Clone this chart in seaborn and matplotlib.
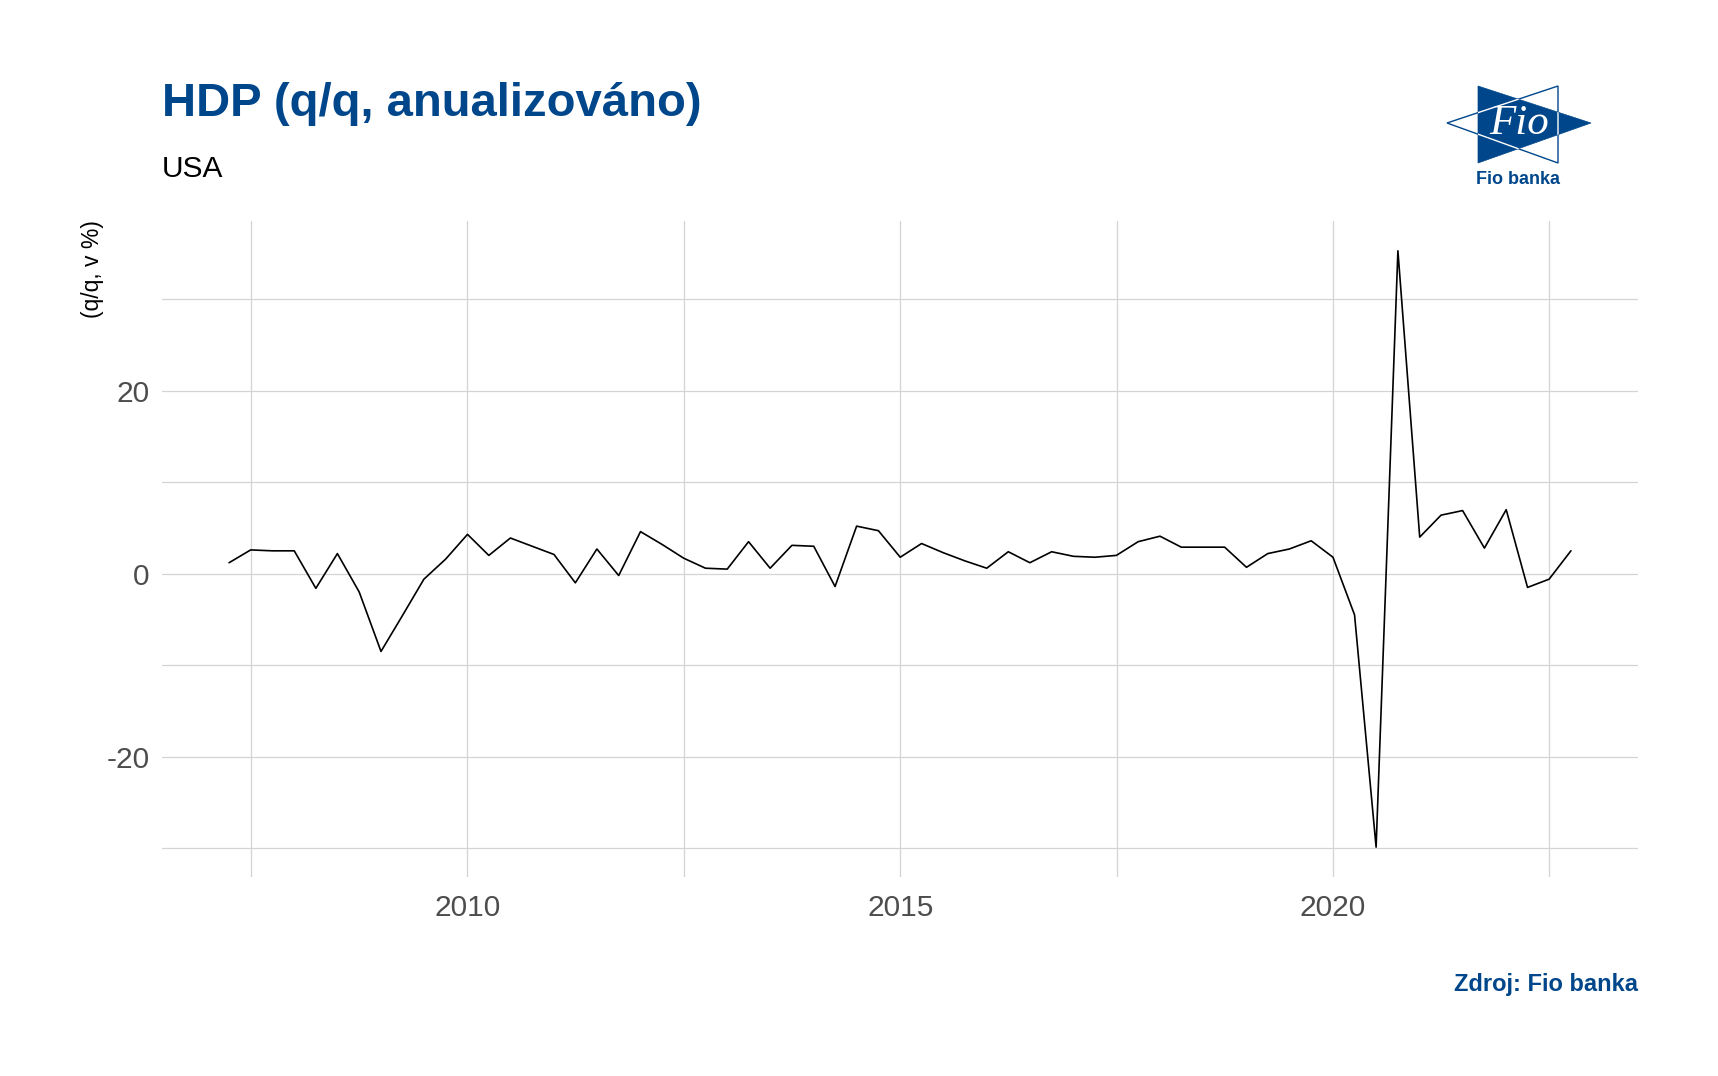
import matplotlib
matplotlib.use("Agg")
import matplotlib.pyplot as plt
import matplotlib.dates as mdates
from matplotlib.patches import Polygon
import seaborn as sns
import pandas as pd

# HDP USA, q/q anualizovano, 2007Q1 - 2022Q3 (datum = konec ctvrtleti)
quarters = pd.date_range("2007-04-01", periods=63, freq="QS")
gdp = [
    1.2, 2.6, 2.5, 2.5,
    -1.6, 2.2, -2.0, -8.5,
    -4.6, -0.6, 1.6, 4.3,
    2.0, 3.9, 3.0, 2.1,
    -1.0, 2.7, -0.2, 4.6,
    3.2, 1.7, 0.6, 0.5,
    3.5, 0.6, 3.1, 3.0,
    -1.4, 5.2, 4.7, 1.8,
    3.3, 2.3, 1.4, 0.6,
    2.4, 1.2, 2.4, 1.9,
    1.8, 2.0, 3.5, 4.1,
    2.9, 2.9, 2.9, 0.7,
    2.2, 2.7, 3.6, 1.8,
    -4.5, -29.9, 35.3, 4.0,
    6.4, 6.9, 2.8, 7.0,
    -1.5, -0.6, 2.5,
]
x_major = ["2010-01-01", "2015-01-01", "2020-01-01"]
x_minor = ["2007-07-02", "2012-07-02", "2017-07-02", "2022-07-02"]
y_major = [-20, 0, 20]
y_minor = [-30, -10, 10, 30]

df = pd.DataFrame({"datum": quarters, "hdp": gdp})

BLUE = "#00468b"
W, H = 1718, 1076

sns.set_theme(style="white")
plt.rcParams["font.family"] = ["Liberation Sans", "DejaVu Sans"]
plt.rcParams["axes.unicode_minus"] = False

fig = plt.figure(figsize=(W / 100, H / 100), dpi=100)
ax = fig.add_axes([162 / W, 1 - 877 / H, (1638 - 162) / W, (877 - 221) / H])

sns.lineplot(data=df, x="datum", y="hdp", ax=ax, color="black", linewidth=1.2)
ax.margins(x=0.05, y=0.05)

ax.set_xticks(pd.to_datetime(x_major))
ax.set_xticks(pd.to_datetime(x_minor), minor=True)
ax.xaxis.set_major_formatter(mdates.DateFormatter("%Y"))
ax.set_yticks(y_major)
ax.set_yticks(y_minor, minor=True)
ax.grid(True, which="both", color="#d4d4d4", linewidth=0.9)
ax.set_axisbelow(True)
for s in ax.spines.values():
    s.set_visible(False)
ax.tick_params(which="both", length=0)
ax.tick_params(axis="both", labelsize=21.5, labelcolor="#4d4d4d")
ax.tick_params(axis="x", pad=12)
ax.tick_params(axis="y", pad=9)
ax.set_xlabel("")
ax.set_ylabel("")

# texty
fig.text(162 / W, 1 - 116 / H, "HDP (q/q, anualizováno)", fontsize=34,
         fontweight="bold", color=BLUE, ha="left", va="baseline")
fig.text(162 / W, 1 - 177 / H, "USA", fontsize=21.5, color="black",
         ha="left", va="baseline")
fig.text(93 / W, 1 - 220 / H, "(q/q, v %)", fontsize=16.5, rotation=90,
         ha="center", va="top", color="black")
fig.text(1638 / W, 1 - 991 / H, "Zdroj: Fio banka", fontsize=17,
         fontweight="bold", color=BLUE, ha="right", va="baseline")

# logo Fio banka
lx0, lx1, ly0, ly1 = 1435, 1600, 78, 195
lax = fig.add_axes([lx0 / W, 1 - ly1 / H, (lx1 - lx0) / W, (ly1 - ly0) / H])
lax.set_xlim(lx0, lx1)
lax.set_ylim(ly1, ly0)
lax.axis("off")
outline = [(1558, 86), (1558, 163), (1447, 123)]
filled = [(1478, 86), (1478, 163), (1591, 123)]
lax.add_patch(Polygon(outline, closed=True, facecolor="white",
                      edgecolor=BLUE, linewidth=1.0))
tri = Polygon(filled, closed=True, facecolor=BLUE, edgecolor=BLUE, linewidth=0.5)
lax.add_patch(tri)
inner = Polygon(outline, closed=True, facecolor="none", edgecolor="white",
                linewidth=1.0)
lax.add_patch(inner)
inner.set_clip_path(tri)
lax.text(1519, 124, "Fio", fontsize=31, color="white", style="italic",
         family=["Liberation Serif", "DejaVu Serif"], ha="center", va="center")
lax.text(1518, 179, "Fio banka", fontsize=13, fontweight="bold", color=BLUE,
         ha="center", va="center")

fig.savefig("out.png", dpi=100, facecolor="white")
